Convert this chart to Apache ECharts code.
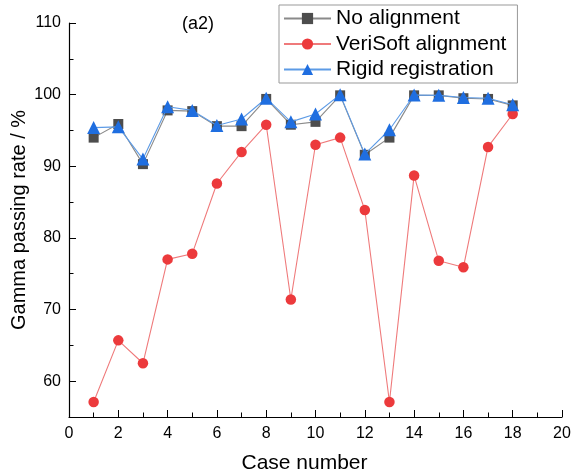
<!DOCTYPE html>
<html><head><meta charset="utf-8">
<script src="https://cdn.jsdelivr.net/npm/echarts@6/dist/echarts.min.js"></script>
<style>html,body{margin:0;padding:0;background:#fff}#c{width:577px;height:473px}</style>
</head><body><div id="c"></div>
<script>
const cases = [1,2,3,4,5,6,7,8,9,10,11,12,13,14,15,16,17,18];
const noAlignment = [94.0,95.9,90.3,97.8,97.7,95.6,95.6,99.4,95.8,96.2,99.9,91.6,94.0,99.9,99.9,99.5,99.4,98.5];
const veriSoft = [57.1,65.7,62.5,77.0,77.8,87.6,92.0,95.8,71.4,93.0,94.0,83.9,57.1,88.7,76.8,75.9,92.7,97.3];
const rigid = [95.4,95.5,91.0,98.3,97.8,95.7,96.6,99.5,96.2,97.3,100.0,91.7,95.1,99.95,99.9,99.6,99.5,98.6];
const seriesNames = ['No alignment','VeriSoft alignment','Rigid registration'];
const yMajorTicks = [60,70,80,90,100,110];
const yMinorTicks = [65,75,85,95,105];

const pairs = a => cases.map((c,i)=>[c,a[i]]);
const font = 'Liberation Sans, Arial, sans-serif';
const chart = echarts.init(document.getElementById('c'));
chart.setOption({
  animation:false,
  textStyle:{fontFamily:font},
  title:{text:'(a2)',left:193,top:10,textAlign:'center',textStyle:{fontSize:18,fontWeight:'normal',color:'#000',fontFamily:font}},
  grid:{left:69,right:15,top:23,bottom:56,containLabel:false,outerBoundsMode:'none'},
  legend:{
    orient:'vertical',left:279,top:5,
    data:seriesNames,
    backgroundColor:'#fff',borderColor:'#999',borderWidth:1,
    padding:[3,11,3,4],itemGap:4.5,itemWidth:47,itemHeight:14,
    textStyle:{fontSize:21,color:'#000',fontFamily:font}
  },
  xAxis:{type:'value',min:0,max:20,interval:2,
    name:'Case number',nameLocation:'middle',nameGap:36,nameMoveOverlap:false,
    nameTextStyle:{fontSize:21,color:'#000',fontFamily:font,padding:[0,22,0,0]},
    axisLine:{lineStyle:{color:'#000',width:1.2}},
    axisTick:{inside:true,length:7,lineStyle:{color:'#000'}},
    minorTick:{show:true,splitNumber:2,length:4.5,lineStyle:{color:'#000'}},
    axisLabel:{fontSize:16,color:'#000',margin:9},
    splitLine:{show:false}
  },
  yAxis:[{type:'value',min:55,max:110,
    name:'Gamma passing rate / %',nameLocation:'middle',nameGap:40,nameRotate:90,nameMoveOverlap:false,
    nameTextStyle:{fontSize:20,color:'#000',fontFamily:font},
    axisLine:{show:true,lineStyle:{color:'#000',width:1.2}},
    axisTick:{inside:true,length:7,lineStyle:{color:'#000'},customValues:yMajorTicks},
    minorTick:{show:false},
    axisLabel:{fontSize:16,color:'#000',margin:8,customValues:yMajorTicks},
    splitLine:{show:false}
  },{type:'value',min:55,max:110,position:'left',
    axisLine:{show:false},
    axisTick:{show:true,inside:true,length:4.5,lineStyle:{color:'#000'},customValues:yMinorTicks},
    axisLabel:{show:false},
    splitLine:{show:false}
  }],
  series:[
    {name:seriesNames[0],type:'line',data:pairs(noAlignment),symbol:'rect',symbolSize:10,
      itemStyle:{color:'#4d4d4d'},lineStyle:{color:'#8a8a8a',width:1.1},z:3},
    {name:seriesNames[1],type:'line',data:pairs(veriSoft),symbol:'circle',symbolSize:10.5,
      itemStyle:{color:'#ec3a3c'},lineStyle:{color:'#ef7a7b',width:1.1},z:2},
    {name:seriesNames[2],type:'line',data:pairs(rigid),symbol:'triangle',symbolSize:13,
      itemStyle:{color:'#1f6ee0'},lineStyle:{color:'#5d9be6',width:1.1},z:4}
  ]
});
</script></body></html>
